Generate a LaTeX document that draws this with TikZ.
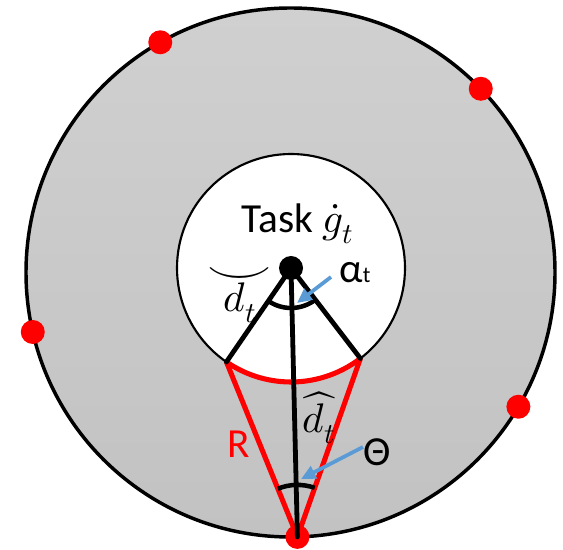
\documentclass[tikz,border=0pt]{standalone}
\usepackage{fontspec,amsmath,unicode-math,graphicx}
\setmainfont{Carlito}
\usetikzlibrary{arrows.meta,calc}
\definecolor{hot}{HTML}{FF0000}
\definecolor{sky}{HTML}{5B9BD5}
\definecolor{disktop}{HTML}{D0D0D0}
\definecolor{diskbot}{HTML}{C2C2C2}
\newcommand{\smileacc}[1]{\overset{\raisebox{-0.22em}[0pt][0pt]{\scalebox{1.6}[1.1]{$\smile$}}}{#1}}
\begin{document}
\begin{tikzpicture}[x=0.75pt,y=0.75pt,>={Triangle[length=11pt,width=10pt]},dot/.style={circle,fill=hot,inner sep=0pt,minimum size=18pt},hub/.style={circle,fill=black,inner sep=0pt,minimum size=18pt},rim/.style={line width=2.6pt},spoke/.style={line width=3.6pt,line cap=round},chord/.style={draw=hot,line width=3.8pt,line join=round},angmark/.style={line width=3.4pt},pointer/.style={draw=sky,line width=2.8pt,->},lbl/.style={font=\fontsize{31}{36}\selectfont,inner sep=0pt,anchor=base}]
\useasboundingbox (0,0) rectangle (563,549);
\coordinate (o) at (290.5,276.5);
\coordinate (c) at (291,281);
\shade[top color=disktop,bottom color=diskbot] (o) circle[radius=264.5];
\draw[rim] (o) circle[radius=264.5];
\filldraw[fill=white,line width=1.6pt] (c) circle[radius=114];
% points on the rim
\node[dot] (u1) at ($(o)+(119.5:264.5)$) {};
\node[dot] (u2) at ($(o)+(44:264.5)$) {};
\node[dot] (u3) at ($(o)+(193:264.5)$) {};
\node[dot] (u4) at ($(o)+(329.5:264.5)$) {};
\node[dot] (u5) at ($(o)+(271.5:264.5)$) {};
\coordinate (p1) at ($(c)+(235.5:114)$);
\coordinate (p2) at ($(c)+(307.5:114)$);
\draw[chord] (p1)--(u5.center)--(p2);
\draw[chord] (p1) arc[start angle=235.5,end angle=307.5,radius=114];
\node[hub] (hub) at (c) {};
\draw[spoke] (p1)--(hub.center)--(p2);\draw[spoke] (hub.center)--(u5.center);
\draw[angmark] ($(c)+(235.5:40)$) arc[start angle=235.5,end angle=307.5,radius=40];
\draw[angmark] ($(u5.center)+(70.6:52)$) arc[start angle=70.6,end angle=112.1,radius=52];
% labels
\node[lbl] (task) at (297.5,316) {Task $\dot{g}_t$};
\node[lbl,font=\fontsize{31}{36}\selectfont] (dlow) at (240,237) {$\smileacc{d_t}$};
\node[lbl] (alpha) at (355,266) {α{\fontsize{17}{20}\selectfont t}};
\node[lbl,font=\fontsize{31}{36}\selectfont] (dhat) at (319,116) {$\widehat{d_t}$};
\node[lbl,text=hot] (rad) at (239,91) {R};
\node[lbl] (theta) at (377.5,83) {Θ};
\coordinate (a0) at (331,272);\coordinate (a1) at (297,246);
\coordinate (t0) at (363,102);\coordinate (t1) at (301,70);
\draw[pointer] (a0)--(a1);\draw[pointer] (t0)--(t1);
\end{tikzpicture}
\end{document}
